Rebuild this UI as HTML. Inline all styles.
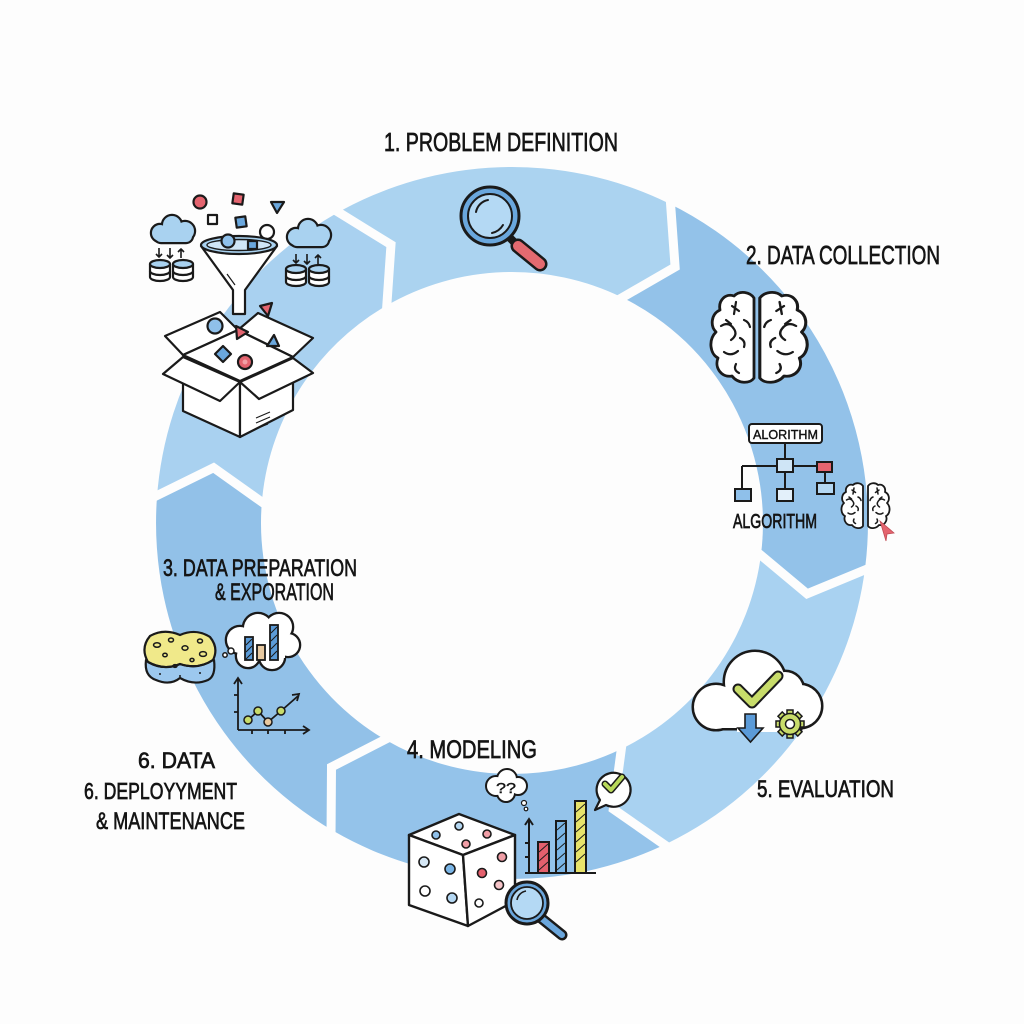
<!DOCTYPE html>
<html>
<head>
<meta charset="utf-8">
<style>
  html,body{margin:0;padding:0;background:#fdfdfd;}
  svg{display:block;}
  .lbl{font-family:"Liberation Sans Narrow","Liberation Sans","DejaVu Sans",sans-serif;fill:#141414;stroke:#141414;stroke-width:0.7;}
</style>
</head>
<body>
<svg width="1024" height="1024" viewBox="0 0 1024 1024" xmlns="http://www.w3.org/2000/svg">
  <rect width="1024" height="1024" fill="#fdfdfd"/>

  <!-- ===== RING SEGMENTS ===== -->
  <g>
    <path d="M334,214.7 A356,356 0 0 1 668.1,203 L675.1,267 L622,297.4 A251,251 0 0 0 386.5,305.6 L391,244.7 Z" fill="#abd3f0"/>
    <path d="M668.1,203 A356,356 0 0 1 865.3,566.4 L807.1,593.8 L761.1,553.6 A251,251 0 0 0 622,297.4 L675.1,267 Z" fill="#93c2e9"/>
    <path d="M865.3,566.4 A356,356 0 0 1 668.1,843 L613.3,809.1 L622,748.6 A251,251 0 0 0 761.1,553.6 L807.1,593.8 Z" fill="#a9d2f1"/>
    <path d="M668.1,843 A356,356 0 0 1 334,831.3 L331.5,767 L386.5,740.4 A251,251 0 0 0 622,748.6 L613.3,809.1 Z" fill="#94c3ea"/>
    <path d="M334,831.3 A356,356 0 0 1 156.9,498.2 L213.6,467.7 L261.6,505.5 A251,251 0 0 0 386.5,740.4 L331.5,767 Z" fill="#92c1e8"/>
    <path d="M156.9,498.2 A356,356 0 0 1 334,214.7 L391,244.7 L386.5,305.6 A251,251 0 0 0 261.6,505.5 L213.6,467.7 Z" fill="#a9d1f0"/>
  </g>
  <!-- white chevron gaps -->
  <g fill="none" stroke="#fdfdfd" stroke-width="9" stroke-linejoin="miter" stroke-miterlimit="10">
    <polyline points="330,207 391,244.7 386.5,310"/>
    <polyline points="670,196 675.1,267 618,300"/>
    <polyline points="872,567 807.1,593.8 757,552"/>
    <polyline points="672,850 613.3,809.1 622,744"/>
    <polyline points="331,838 331.5,767 390,737"/>
    <polyline points="150,499 213.6,467.7 266,505"/>
  </g>

  <!-- ===== LABELS ===== -->
  <text class="lbl" x="384" y="151" font-size="26" textLength="234" lengthAdjust="spacingAndGlyphs">1. PROBLEM DEFINITION</text>
  <text class="lbl" x="746" y="264" font-size="26" textLength="194" lengthAdjust="spacingAndGlyphs">2. DATA COLLECTION</text>
  <text class="lbl" x="163" y="576" font-size="24" textLength="194" lengthAdjust="spacingAndGlyphs">3. DATA PREPARATION</text>
  <text class="lbl" x="215" y="600" font-size="24" textLength="119" lengthAdjust="spacingAndGlyphs">&amp; EXPORATION</text>
  <text class="lbl" x="407" y="758" font-size="25" textLength="130" lengthAdjust="spacingAndGlyphs">4. MODELING</text>
  <text class="lbl" x="757" y="797" font-size="24" textLength="137" lengthAdjust="spacingAndGlyphs">5. EVALUATION</text>
  <text class="lbl" x="138" y="768" font-size="22" textLength="77" lengthAdjust="spacingAndGlyphs">6. DATA</text>
  <text class="lbl" x="84" y="799" font-size="23" textLength="153" lengthAdjust="spacingAndGlyphs">6. DEPLOYYMENT</text>
  <text class="lbl" x="96" y="829" font-size="24" textLength="149" lengthAdjust="spacingAndGlyphs">&amp; MAINTENANCE</text>
  <text class="lbl" x="733" y="528" font-size="20" textLength="84" lengthAdjust="spacingAndGlyphs">ALGORITHM</text>

  <!-- ===== TOP MAGNIFIER ===== -->
  <g stroke="#1a1a1a">
    <line x1="506" y1="234" x2="515" y2="243" stroke-width="8" stroke-linecap="round"/>
    <line x1="518" y1="246" x2="540" y2="264" stroke-width="15" stroke-linecap="round"/>
    <line x1="518" y1="246" x2="540" y2="264" stroke="#e46a70" stroke-width="10" stroke-linecap="round"/>
    <circle cx="490" cy="216" r="29" fill="#6aa7dd" stroke-width="3"/>
    <circle cx="490" cy="216" r="22" fill="#b4d9f4" stroke-width="2"/>
    <path d="M476,212 A15,15 0 0 1 488,200" fill="none" stroke-width="2" stroke-linecap="round"/>
    <path d="M492,233 A17,17 0 0 0 503,225" fill="none" stroke-width="2" stroke-linecap="round"/>
  </g>

  <!-- ===== UPPER-LEFT: funnel + box ===== -->
  <g stroke="#1a1a1a" stroke-width="2.2" stroke-linejoin="round">
    <g>
      <g stroke-width="4.4">
        <circle cx="160" cy="233" r="8"/><circle cx="172" cy="225" r="9"/><circle cx="185" cy="231" r="9"/>
        <rect x="155" y="230" width="37" height="12" rx="6"/>
      </g>
      <g fill="#a9d2f0" stroke="none">
        <circle cx="160" cy="233" r="8"/><circle cx="172" cy="225" r="9"/><circle cx="185" cy="231" r="9"/>
        <rect x="155" y="230" width="37" height="12" rx="6"/>
      </g>
    </g>
    <g>
      <g stroke-width="4.4">
        <circle cx="296" cy="237" r="8"/><circle cx="308" cy="229" r="9"/><circle cx="321" cy="235" r="9"/>
        <rect x="291" y="234" width="37" height="12" rx="6"/>
      </g>
      <g fill="#a9d2f0" stroke="none">
        <circle cx="296" cy="237" r="8"/><circle cx="308" cy="229" r="9"/><circle cx="321" cy="235" r="9"/>
        <rect x="291" y="234" width="37" height="12" rx="6"/>
      </g>
    </g>
    <g fill="none" stroke-width="1.6">
      <path d="M159,248 v9 M156,254 l3,3 3,-3"/>
      <path d="M170,248 v10 M167,255 l3,3 3,-3"/>
      <path d="M181,249 v9 M178,252 l3,-3 3,3"/>
      <path d="M296,254 v9 M293,260 l3,3 3,-3"/>
      <path d="M307,254 v10 M304,261 l3,3 3,-3"/>
      <path d="M318,255 v9 M315,258 l3,-3 3,3"/>
    </g>
    <g fill="#fff">
      <path d="M150,264 v13 a10,4 0 0 0 20,0 v-13"/><ellipse cx="160" cy="264" rx="10" ry="4" fill="#a9d2f0"/><path d="M150,271 a10,4 0 0 0 20,0" fill="none"/>
      <path d="M173,264 v13 a10,4 0 0 0 20,0 v-13"/><ellipse cx="183" cy="264" rx="10" ry="4" fill="#a9d2f0"/><path d="M173,271 a10,4 0 0 0 20,0" fill="none"/>
      <path d="M286,269 v13 a10,4 0 0 0 20,0 v-13"/><ellipse cx="296" cy="269" rx="10" ry="4" fill="#a9d2f0"/><path d="M286,276 a10,4 0 0 0 20,0" fill="none"/>
      <path d="M309,269 v13 a10,4 0 0 0 20,0 v-13"/><ellipse cx="319" cy="269" rx="10" ry="4" fill="#a9d2f0"/><path d="M309,276 a10,4 0 0 0 20,0" fill="none"/>
    </g>
    <circle cx="200" cy="202" r="6.5" fill="#e4646f"/>
    <rect x="233" y="194" width="10" height="10" fill="#e4646f" transform="rotate(8 238 199)"/>
    <polygon points="271,202 284,202 277,213" fill="#6aa7dd"/>
    <rect x="208" y="215" width="9" height="9" fill="#fff"/>
    <rect x="236" y="217" width="10" height="10" fill="#6aa7dd" transform="rotate(-8 241 222)"/>
    <circle cx="267" cy="232" r="7" fill="#fff"/>
    <path d="M201,246 L233,290 L233,314 L245,314 L245,290 L277,246 Z" fill="#fff"/>
    <path d="M224,278 L232,288 M227,274 L235,285" fill="none" stroke-width="1.2"/>
    <ellipse cx="239" cy="245" rx="38" ry="9" fill="#a9d2f0"/>
    <ellipse cx="239" cy="245" rx="32" ry="5.5" fill="#cfe5f6" stroke-width="1.4"/>
    <circle cx="228" cy="241" r="6.5" fill="#8fc0ea"/>
    <rect x="248" y="241" width="9" height="8" fill="#6aa7dd"/>
    <polygon points="183,355 238,330 220,312 165,336" fill="#fff"/>
    <polygon points="238,330 293,357 313,338 258,313" fill="#fff"/>
    <polygon points="183,355 238,330 293,357 240,381" fill="#fff"/>
    <circle cx="215" cy="326" r="7.5" fill="#8fc0ea"/>
    <polygon points="236,326 248,332 237,339" fill="#e4646f"/>
    <polygon points="260,306 272,303 268,316" fill="#e4646f"/>
    <polygon points="267,346 279,346 274,335" fill="#6aa7dd"/>
    <polygon points="223,346 231,354 223,362 215,354" fill="#6aa7dd"/>
    <circle cx="245" cy="362" r="7" fill="#e4646f"/>
    <circle cx="245" cy="362" r="2.5" fill="#f3a0a6" stroke="none"/>
    <polygon points="183,358 240,382 240,437 183,411" fill="#fff"/>
    <polygon points="240,382 293,358 293,410 240,437" fill="#fff"/>
    <polygon points="183,357 240,382 220,401 163,374" fill="#fff"/>
    <polygon points="240,382 293,358 313,373 259,399" fill="#fff"/>
    <path d="M256,418 l14,-6 M256,423 l14,-6 M258,428 l10,-4" fill="none" stroke-width="1.2"/>
  </g>

  <!-- ===== BRAIN ===== -->
  <defs>
    <path id="hemi" d="M42,8 C38,2 28,0 22,6 C14,3 6,10 8,20 C-1,24 -2,36 4,42 C-4,50 -2,64 6,68 C2,78 10,88 20,86 C26,94 38,94 42,88 Z"/>
    <path id="squig" d="M20,16 l7,5 M24,12 l-2,12 M9,36 q8,-5 13,3 q4,6 -3,11 M14,30 l5,4 M12,62 q7,5 14,-1 M28,48 q6,3 4,9 M24,74 q-3,6 3,9 M32,30 q5,2 6,7" fill="none"/>
  </defs>
  <g stroke="#1a1a1a" stroke-width="2.8" stroke-linejoin="round" stroke-linecap="round">
    <g transform="translate(712,290)"><use href="#hemi" fill="#fff"/><use href="#squig" stroke-width="2.2"/></g>
    <g transform="translate(806,290) scale(-1.1,1)"><use href="#hemi" fill="#fff"/><use href="#squig" stroke-width="2.2"/></g>
  </g>
  <g stroke="#1a1a1a" stroke-width="3.6" stroke-linejoin="round" stroke-linecap="round">
    <g transform="translate(842,482) scale(0.5)"><use href="#hemi" fill="#fff"/><use href="#squig" stroke-width="3"/></g>
    <g transform="translate(889,482) scale(-0.5,0.5)"><use href="#hemi" fill="#fff"/><use href="#squig" stroke-width="3"/></g>
  </g>
  <polygon points="880,521 894,533 887,534 886,541" fill="#e4646f" stroke="#c04a54" stroke-width="0.8"/>

  <!-- ===== ALGORITHM TREE ===== -->
  <g stroke="#1a1a1a" stroke-width="2">
    <rect x="749" y="424" width="73" height="19" rx="3" fill="#fff"/>
    <text x="753" y="439" font-family="Liberation Sans Narrow,Liberation Sans,sans-serif" font-size="13" fill="#141414" stroke="#141414" stroke-width="0.4" textLength="65" lengthAdjust="spacingAndGlyphs">ALORITHM</text>
    <path d="M785,443 v16 M742,466 h35 M793,466 h24 M742,466 v23 M785,472 v17 M825,472 v11" fill="none"/>
    <rect x="777" y="459" width="16" height="13" fill="#cfe5f6"/>
    <rect x="817" y="462" width="15" height="10" fill="#e4646f"/>
    <rect x="735" y="489" width="16" height="12" fill="#8fc0ea"/>
    <rect x="777" y="489" width="16" height="12" fill="#e3f0fa"/>
    <rect x="817" y="483" width="17" height="11" fill="#b4d7f2"/>
  </g>

  <!-- ===== EVALUATION CLOUD ===== -->
  <g>
    <g stroke="#1a1a1a" stroke-width="5" fill="#1a1a1a">
      <circle cx="716" cy="707" r="22"/><circle cx="755" cy="682" r="30"/><circle cx="785" cy="690" r="18"/><circle cx="800" cy="706" r="21"/>
      <rect x="716" y="700" width="84" height="28"/>
    </g>
    <g fill="#fff">
      <circle cx="716" cy="707" r="22"/><circle cx="755" cy="682" r="30"/><circle cx="785" cy="690" r="18"/><circle cx="800" cy="706" r="21"/>
      <rect x="716" y="700" width="84" height="28"/>
    </g>
    <rect x="737" y="724" width="50" height="8" fill="#fff"/>
    <polyline points="738,689 752,703 778,676" fill="none" stroke="#1a1a1a" stroke-width="11" stroke-linecap="round" stroke-linejoin="round"/>
    <polyline points="738,689 752,703 778,676" fill="none" stroke="#c8dc6a" stroke-width="7" stroke-linecap="round" stroke-linejoin="round"/>
    <polygon points="745,714 756,714 756,728 763,728 750.5,742 738,728 745,728" fill="#5b9bd8" stroke="#1a1a1a" stroke-width="1.6"/>
    <g transform="translate(790,724)" fill="#c8dc6a" stroke="#1a1a1a" stroke-width="1.5">
      <g>
        <rect x="-3" y="-14" width="6" height="28"/>
        <rect x="-3" y="-14" width="6" height="28" transform="rotate(45)"/>
        <rect x="-3" y="-14" width="6" height="28" transform="rotate(90)"/>
        <rect x="-3" y="-14" width="6" height="28" transform="rotate(135)"/>
      </g>
      <circle r="10.5"/>
      <circle r="4.5" fill="#fff"/>
    </g>
  </g>

  <!-- ===== SPONGE + THOUGHT CHART ===== -->
  <g stroke="#1a1a1a" stroke-width="2.2" stroke-linejoin="round">
    <path d="M146,660 Q144,676 156,680 Q170,686 180,678 Q194,686 208,680 Q216,676 214,660 Z" fill="#9cc8ee"/>
    <path d="M150,636 Q164,628 180,635 Q196,628 210,637 Q219,648 213,660 Q198,670 180,664 Q164,671 148,662 Q140,648 150,636 Z" fill="#f0e98a"/>
    <path d="M148,662 Q164,671 180,664 Q198,670 213,660" fill="none"/>
    <g fill="none" stroke-width="1.5">
      <ellipse cx="157" cy="645" rx="3.5" ry="2.2"/><ellipse cx="171" cy="640" rx="2.5" ry="2"/><ellipse cx="185" cy="648" rx="3" ry="2.2"/>
      <ellipse cx="200" cy="641" rx="2.5" ry="2"/><ellipse cx="203" cy="654" rx="3.5" ry="2.4"/><ellipse cx="165" cy="655" rx="2.2" ry="1.8"/>
      <ellipse cx="192" cy="660" rx="2" ry="1.6"/><ellipse cx="175" cy="666" rx="2" ry="1.4"/>
    </g>
    <g fill="#1a1a1a" stroke="none"><circle cx="160" cy="674" r="1"/><circle cx="180" cy="676" r="1"/><circle cx="200" cy="673" r="1"/></g>
  </g>
  <g>
    <g stroke="#1a1a1a" stroke-width="4.6" fill="#1a1a1a">
      <circle cx="240" cy="640" r="13"/><circle cx="258" cy="628" r="14"/><circle cx="279" cy="627" r="13"/><circle cx="288" cy="645" r="11"/>
      <circle cx="272" cy="657" r="12"/><circle cx="248" cy="656" r="11"/>
    </g>
    <g fill="#fff">
      <circle cx="240" cy="640" r="13"/><circle cx="258" cy="628" r="14"/><circle cx="279" cy="627" r="13"/><circle cx="288" cy="645" r="11"/>
      <circle cx="272" cy="657" r="12"/><circle cx="248" cy="656" r="11"/><rect x="240" y="630" width="45" height="28"/>
    </g>
    <circle cx="231" cy="651" r="3" fill="#fff" stroke="#1a1a1a" stroke-width="1.5"/>
    <circle cx="225" cy="655" r="2.2" fill="#fff" stroke="#1a1a1a" stroke-width="1.5"/>
    <g stroke="#1a1a1a" stroke-width="1.8">
      <rect x="245" y="637" width="8" height="23" fill="#5b9bd8"/>
      <rect x="257" y="645" width="8" height="15" fill="#e8c9a0"/>
      <rect x="270" y="625" width="8" height="35" fill="#5b9bd8"/>
      <path d="M246,645 l6,-6 M246,652 l6,-6 M246,659 l6,-6 M271,633 l6,-6 M271,641 l6,-6 M271,649 l6,-6 M271,657 l6,-6" stroke-width="1" fill="none"/>
    </g>
  </g>
  <g stroke="#1a1a1a" stroke-width="1.8" fill="none">
    <path d="M238,730 V678 M234,684 l4,-6 4,6"/>
    <path d="M238,730 H309 M303,726 l6,4 -6,4"/>
    <path d="M234,695 h4 M234,712 h4 M252,730 v4 M268,730 v4 M285,730 v4"/>
    <polyline points="248,720 258,711 268,722 281,711 298,696"/>
    <path d="M292,695 l7,-1 -2,7"/>
  </g>
  <g stroke="#1a1a1a" stroke-width="1.5">
    <circle cx="248" cy="720" r="4" fill="#c8dc6a"/>
    <circle cx="258" cy="711" r="4" fill="#c8dc6a"/>
    <circle cx="268" cy="722" r="4" fill="#e8c9a0"/>
    <circle cx="281" cy="711" r="4" fill="#c8dc6a"/>
  </g>

  <!-- ===== MODELING: dice, bars, bubbles ===== -->
  <g stroke="#1a1a1a" stroke-width="2.4" stroke-linejoin="round">
    <polygon points="409,835 459,814 515,835 463,855" fill="#fff"/>
    <polygon points="409,835 463,855 468,926 409,905" fill="#fff"/>
    <polygon points="463,855 515,835 515,901 468,926" fill="#fff"/>
    <g stroke-width="1.6">
      <circle cx="436" cy="835" r="4" fill="#8fc0ea"/>
      <circle cx="459" cy="826" r="4" fill="#b4d7f2"/>
      <circle cx="487" cy="834" r="4" fill="#f09ea6"/>
      <circle cx="466" cy="844" r="4" fill="#f09ea6"/>
      <circle cx="424" cy="862" r="5" fill="#d6e8f6"/>
      <circle cx="450" cy="869" r="5" fill="#7ab5e6"/>
      <circle cx="425" cy="891" r="5" fill="#fff"/>
      <circle cx="452" cy="898" r="5" fill="#b4d7f2"/>
      <circle cx="482" cy="873" r="4.5" fill="#e4606d"/>
      <circle cx="502" cy="857" r="4.5" fill="#f09ea6"/>
      <circle cx="499" cy="885" r="4.5" fill="#f6c4c8"/>
      <circle cx="479" cy="903" r="4" fill="#fff"/>
    </g>
  </g>
  <g stroke="#1a1a1a">
    <line x1="541" y1="918" x2="562" y2="935" stroke-width="11" stroke-linecap="round"/>
    <line x1="541" y1="918" x2="562" y2="935" stroke="#6aa6dc" stroke-width="6" stroke-linecap="round"/>
    <circle cx="527" cy="903" r="21" fill="#6aa6dc" stroke-width="3"/>
    <circle cx="527" cy="903" r="16" fill="#b4d9f4" stroke-width="1.8"/>
    <path d="M517,900 A11,11 0 0 1 526,891" fill="none" stroke-width="1.6"/>
  </g>
  <g stroke="#1a1a1a" stroke-width="2">
    <path d="M529,873 V819 M525,825 l4,-6 4,6" fill="none"/>
    <path d="M525,873 H596" fill="none"/>
    <path d="M525,843 h4 M525,857 h4" fill="none"/>
    <rect x="538" y="842" width="11" height="31" fill="#e4606d"/>
    <rect x="556" y="821" width="10" height="52" fill="#7ab5e6"/>
    <rect x="575" y="801" width="11" height="72" fill="#e8e36a"/>
    <path d="M539,852 l9,-8 M539,861 l9,-8 M539,870 l9,-8 M557,830 l8,-7 M557,840 l8,-7 M557,850 l8,-7 M557,860 l8,-7 M557,870 l8,-7 M576,812 l9,-8 M576,822 l9,-8 M576,832 l9,-8 M576,842 l9,-8 M576,852 l9,-8 M576,862 l9,-8" stroke-width="0.9" fill="none"/>
  </g>
  <g stroke="#1a1a1a" stroke-width="2.2">
    <path d="M600,800 A17,17 0 1 1 606,805 L595,810 Z" fill="#fff" stroke-linejoin="round"/>
    <polyline points="605,784 611,790 622,777" fill="none" stroke-width="7" stroke-linecap="round" stroke-linejoin="round"/>
    <polyline points="605,784 611,790 622,777" fill="none" stroke="#b8d85a" stroke-width="4" stroke-linecap="round" stroke-linejoin="round"/>
  </g>
  <g>
    <g stroke="#1a1a1a" stroke-width="4" fill="#1a1a1a">
      <circle cx="496" cy="786" r="9"/><circle cx="507" cy="779" r="9"/><circle cx="518" cy="786" r="8"/><circle cx="506" cy="793" r="8"/>
    </g>
    <g fill="#fff">
      <circle cx="496" cy="786" r="9"/><circle cx="507" cy="779" r="9"/><circle cx="518" cy="786" r="8"/><circle cx="506" cy="793" r="8"/>
    </g>
    <text x="496" y="793" font-family="Liberation Sans,sans-serif" font-size="15" fill="#141414" stroke="#141414" stroke-width="0.4" textLength="20" lengthAdjust="spacingAndGlyphs">??</text>
    <circle cx="524" cy="803" r="2.5" fill="#fff" stroke="#1a1a1a" stroke-width="1.2"/>
    <circle cx="526" cy="809" r="1.8" fill="#fff" stroke="#1a1a1a" stroke-width="1.2"/>
  </g>
</svg>
</body>
</html>
